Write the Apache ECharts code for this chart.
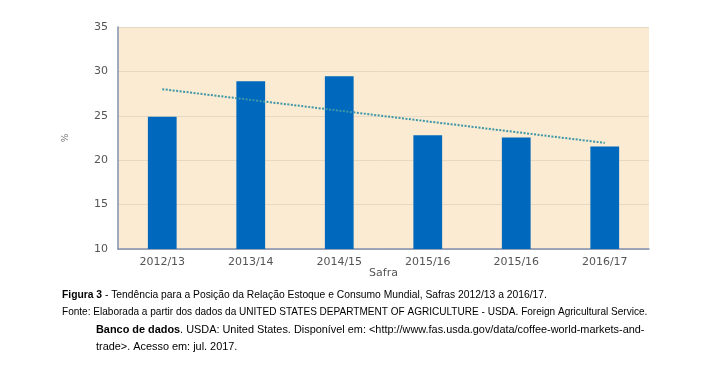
<!DOCTYPE html>
<html><head><meta charset="utf-8">
<script src="https://cdn.jsdelivr.net/npm/echarts@6/dist/echarts.min.js"></script>
<style>html,body{margin:0;padding:0;background:#fff}#c{width:714px;height:371px}</style>
</head><body><div id="c"></div>
<script>
const categories = ['2012/13','2013/14','2014/15','2015/16','2015/16','2016/17'];
const ratioValues = [24.9, 28.9, 29.45, 22.8, 22.55, 21.55];
const trendValues = [28.0, null, null, null, null, 21.95];
const yTicks = {min: 10, max: 35, interval: 5};
const captionLines = [
  [{t:'Figura 3', b:true},{t:' - Tendência para a Posição da Relação Estoque e Consumo Mundial, Safras 2012/13 a 2016/17.'}],
  [{t:'Fonte: Elaborada a partir dos dados da UNITED STATES DEPARTMENT OF AGRICULTURE - USDA. Foreign Agricultural Service.'}],
  [{t:'Banco de dados', b:true},{t:'. USDA: United States. Disponível em: <http://www.fas.usda.gov/data/coffee-world-markets-and-'}],
  [{t:'trade>. Acesso em: jul. 2017.'}]
];
const FONT = 'DejaVu Sans';
const CFONT = 'Liberation Sans';
const chart = echarts.init(document.getElementById('c'));
const lineX = [62, 62, 96, 96];
const lineY = [296, 313, 330, 347];
const lineSize = [10.3, 10.05, 10.9, 10.9];
const graphics = captionLines.map((segs, i) => ({
  type:'text', left: lineX[i], top: lineY[i]-6,
  style:{ text: segs.map(s => '{' + (s.b?'b':'n') + '|' + s.t + '}').join(''),
    rich: {b:{fontWeight:'bold', fontFamily:CFONT, fontSize:lineSize[i], color:'#222'},
           n:{fontFamily:CFONT, fontSize:lineSize[i], color:'#222'}} }
}));
chart.setOption({
  animation:false,
  grid:{left:118, top:27, width:531, height:222, backgroundColor:'#faebd2', show:true, borderWidth:0},
  xAxis:{type:'category', data:categories, name:'Safra', nameLocation:'middle', nameGap:19, nameMoveOverlap:false,
    nameTextStyle:{color:'#555', fontFamily:FONT, fontSize:11},
    axisLine:{lineStyle:{color:'#8090b0', width:1.5}}, axisTick:{show:false},
    axisLabel:{color:'#555', fontFamily:FONT, fontSize:11, margin:8}},
  yAxis:{type:'value', min:yTicks.min, max:yTicks.max, interval:yTicks.interval,
    name:'%', nameLocation:'middle', nameGap:48, nameRotate:90, nameMoveOverlap:false,
    nameTextStyle:{color:'#777', fontFamily:FONT, fontSize:9},
    axisLine:{show:true, lineStyle:{color:'#8090b0', width:1.5}}, axisTick:{show:false},
    axisLabel:{color:'#555', fontFamily:FONT, fontSize:11, margin:10},
    splitLine:{lineStyle:{color:'#e6d9c4', width:1}}},
  series:[
    {type:'bar', data:ratioValues, barWidth:'32.5%', itemStyle:{color:'#0069bd'}},
    {type:'line', data:trendValues, connectNulls:true, symbol:'none', z:3,
      lineStyle:{color:'#3f97a8', width:2, type:[2,1.5]}}
  ],
  graphic: graphics
});
</script></body></html>
